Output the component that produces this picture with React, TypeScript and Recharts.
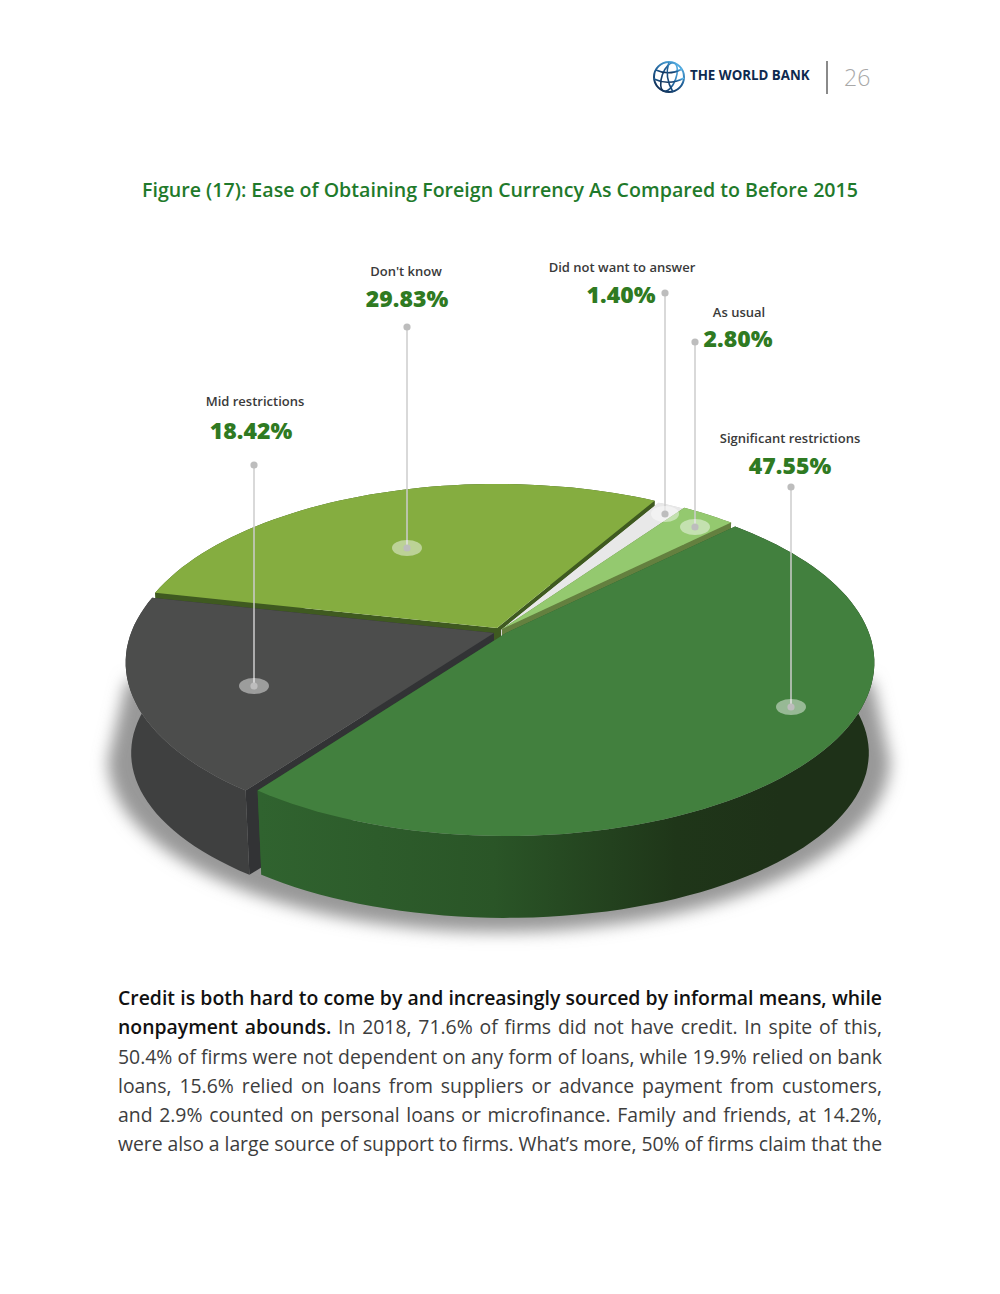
import React from "react";
import { PieChart, Pie } from "recharts";

const categories = ["Significant restrictions", "Mid restrictions", "Don't know", "Did not want to answer", "As usual"];
const shares = [47.55, 18.42, 29.83, 1.4, 2.8];
const topColors = ["#42803e", "#4c4d4c", "#85ad40", "#e8e8e8", "#94c96f"];
const wallColors = ["url(#greenWall)", "#3f4040", "#3f5a20", "#d5d5d5", "#64803f"];
const cutColors = ["#2c5a2b", "#323335", "#3f5a20", "#d5d5d5", "#64803f"];

const bodyLines = [
  "In 2018, 71.6% of firms did not have credit. In spite of this,",
  "50.4% of firms were not dependent on any form of loans, while 19.9% relied on bank",
  "loans, 15.6% relied on loans from suppliers or advance payment from customers,",
  "and 2.9% counted on personal loans or microfinance. Family and friends, at 14.2%,",
  "were also a large source of support to firms. What\u2019s more, 50% of firms claim that the",
];

const data = categories.map((name, i) => ({ name, value: shares[i], fill: topColors[i] }));

// paint passes, back to front, so the cut faces show between the slices
const paintPasses = [["Don't know", "Did not want to answer", "As usual"], ["Mid restrictions"], ["Significant restrictions"]];

// small explode offset of each slice
const offsets: Record<string, [number, number]> = {
  "Significant restrictions": [9, 3],
  "Mid restrictions": [-3, 3],
  "Don't know": [0, -2],
  "Did not want to answer": [4, 0],
  "As usual": [5, -1],
};

// callout layout: label centre x, label y, value centre x, value y, dot y, marker x, marker y
const callouts = [
  { lx: 790, ly: 443, vx: 790, vy: 474, x: 791, top: 487, bottom: 707, rx: 15, ry: 8 },
  { lx: 255, ly: 406, vx: 251, vy: 439, x: 254, top: 465, bottom: 686, rx: 15, ry: 8 },
  { lx: 406, ly: 276, vx: 407, vy: 307, x: 407, top: 327, bottom: 548, rx: 15, ry: 8 },
  { lx: 622, ly: 272, vx: 621, vy: 303, x: 665, top: 293, bottom: 514, rx: 14, ry: 8 },
  { lx: 739, ly: 317, vx: 738, vy: 347, x: 695, top: 342, bottom: 527, rx: 15, ry: 8 },
];

const FONT = "'Open Sans', sans-serif";

// perspective of the disk: the circle centre sits above the middle of the ellipse
const K = -0.17;
const A = 168.5;
const C = 363;

function project(deg: number, r = 1) {
  const a = (deg * Math.PI) / 180;
  const u = r * Math.cos(a);
  const v = -r * Math.sin(a);
  const w = 1 + K * v;
  return { x: (C * u) / w, y: (A * v) / w };
}

function drop(p: { x: number; y: number }) {
  return { x: p.x * 0.985, y: p.y * 0.95 + 92 };
}

function toPath(points: { x: number; y: number }[], ox: number, oy: number) {
  return points.map((p, i) => `${i ? "L" : "M"}${(p.x + ox).toFixed(1)},${(p.y + oy).toFixed(1)}`).join(" ") + " Z";
}

function Slice3D(props: any) {
  const { cx, cy, startAngle, endAngle, name } = props;
  const idx = categories.indexOf(name);
  const [dx, dy] = offsets[name];
  const ox = cx + dx;
  const oy = cy + dy;
  const steps = Math.max(4, Math.ceil(Math.abs(startAngle - endAngle) / 2));
  const arc = [];
  for (let i = 0; i <= steps; i++) {
    arc.push(project(startAngle + ((endAngle - startAngle) * i) / steps));
  }
  const apex = { x: 0, y: 0 };
  const arcBottom = arc.map(drop);
  // one quad per step, so the side of the disk fills up to its silhouette
  const wall = arc.slice(1).map((p, i) => toPath([arc[i], p, arcBottom[i + 1], arcBottom[i]], ox, oy)).join(" ");
  const cutStart = [apex, arc[0], arcBottom[0], drop(apex)];
  const cutEnd = [apex, arc[arc.length - 1], arcBottom[arcBottom.length - 1], drop(apex)];
  return (
    <g>
      <path d={toPath(cutStart, ox, oy)} fill={cutColors[idx]} />
      <path d={toPath(cutEnd, ox, oy)} fill={cutColors[idx]} />
      <path d={wall} fill={wallColors[idx]} />
      <path d={toPath([apex, ...arc], ox, oy)} fill={topColors[idx]} />
    </g>
  );
}

function Callout(props: any) {
  const c = callouts[props.index];
  return (
    <g>
      <line x1={c.x} y1={c.top} x2={c.x} y2={c.bottom} stroke="#cccccc" strokeWidth={1.5} />
      <circle cx={c.x} cy={c.top} r={3.6} fill="#bdbdbd" />
      <ellipse cx={c.x} cy={c.bottom} rx={c.rx} ry={c.ry} fill="#ffffff" fillOpacity={0.45} />
      <circle cx={c.x} cy={c.bottom} r={3.6} fill="#bdbdbd" />
      <text x={c.lx} y={c.ly} textAnchor="middle" fontFamily={FONT} fontSize={13} fontWeight={600} fill="#3a3a3a">
        {props.name}
      </text>
      <text x={c.vx} y={c.vy} textAnchor="middle" fontFamily={FONT} fontSize={23} fontWeight={800} fill="#2f7a22">
        {props.value.toFixed(2)}%
      </text>
    </g>
  );
}

function Globe() {
  return (
    <svg width={34} height={34} viewBox="0 0 34 34" style={{ position: "absolute", left: 652, top: 60 }}>
      <defs>
        <linearGradient id="globe" x1="0.8" y1="0" x2="0.2" y2="1">
          <stop offset="0" stopColor="#58b5ea" />
          <stop offset="0.5" stopColor="#1f5e96" />
          <stop offset="1" stopColor="#0e2a4f" />
        </linearGradient>
      </defs>
      <g fill="none" stroke="url(#globe)" strokeWidth={1.6}>
        <circle cx={17} cy={17} r={15} strokeWidth={2} />
        <ellipse cx={17} cy={17} rx={7} ry={15} transform="rotate(20 17 17)" />
        <path d="M4 10 Q17 16 30 9" />
        <path d="M2 19 Q17 26 32 18" />
        <path d="M17 2 Q12 17 21 32" />
      </g>
    </svg>
  );
}

const justified: React.CSSProperties = { textAlign: "justify", textAlignLast: "justify", whiteSpace: "nowrap" };

export default function App() {
  return (
    <div style={{ position: "absolute", left: 0, top: 0, width: 1000, height: 1294, background: "#fff", overflow: "hidden", fontFamily: FONT }}>
      <Globe />
      <div style={{ position: "absolute", left: 690, top: 66, fontSize: 13.3, fontWeight: 700, color: "#0e2a4f", whiteSpace: "nowrap" }}>
        THE WORLD BANK
      </div>
      <div style={{ position: "absolute", left: 826, top: 61, width: 1.5, height: 33, background: "#8a8a8a" }} />
      <div style={{ position: "absolute", left: 844, top: 61, fontSize: 23, fontWeight: 300, color: "#a8a8a8" }}>26</div>

      <div style={{ position: "absolute", left: 0, width: 1000, top: 176, textAlign: "center", fontSize: 19.6, fontWeight: 600, color: "#1f7a2b", whiteSpace: "nowrap" }}>
        Figure (17): Ease of Obtaining Foreign Currency As Compared to Before 2015
      </div>

      <svg width={1000} height={1294} style={{ position: "absolute", left: 0, top: 0 }}>
        <defs>
          <filter id="soft" x="-10%" y="-20%" width="120%" height="140%">
            <feGaussianBlur stdDeviation={8} />
          </filter>
        </defs>
        <path d="M127,680 L108,760 A391,172 0 0 0 890,760 L872,680 Z" fill="#989898" filter="url(#soft)" />
      </svg>

      <div style={{ position: "absolute", left: 0, top: 0 }}>
        <PieChart width={1000} height={1294} margin={{ top: 0, right: 0, bottom: 0, left: 0 }}>
          <defs>
            <linearGradient id="greenWall" gradientUnits="userSpaceOnUse" x1={260} y1={0} x2={780} y2={0}>
              <stop offset="0" stopColor="#30632f" />
              <stop offset="0.45" stopColor="#2a5527" />
              <stop offset="0.8" stopColor="#1f3619" />
              <stop offset="1" stopColor="#1e3118" />
            </linearGradient>
          </defs>
          {paintPasses.map((pass, p) => (
            <Pie
              key={p}
              data={data}
              dataKey="value"
              nameKey="name"
              cx={497}
              cy={630}
              innerRadius={0}
              outerRadius={370}
              startAngle={45}
              endAngle={-315}
              stroke="none"
              isAnimationActive={false}
              labelLine={false}
              label={p === paintPasses.length - 1 ? Callout : false}
              shape={(s: any) => (pass.includes(s.name) ? <Slice3D {...s} /> : <g />)}
            />
          ))}
        </PieChart>
      </div>

      <div style={{ position: "absolute", left: 118, top: 983, width: 764, fontSize: 19.4, lineHeight: "29.3px", color: "#3d3d3d" }}>
        <div style={{ ...justified, fontWeight: 600, color: "#111" }}>
          Credit is both hard to come by and increasingly sourced by informal means, while
        </div>
        <div style={justified}>
          <span style={{ fontWeight: 600, color: "#111" }}>nonpayment abounds.</span> {bodyLines[0]}
        </div>
        {bodyLines.slice(1).map((l, i) => (
          <div key={l} style={{ ...justified, letterSpacing: i === 3 ? -0.07 : 0 }}>{l}</div>
        ))}
      </div>
    </div>
  );
}
